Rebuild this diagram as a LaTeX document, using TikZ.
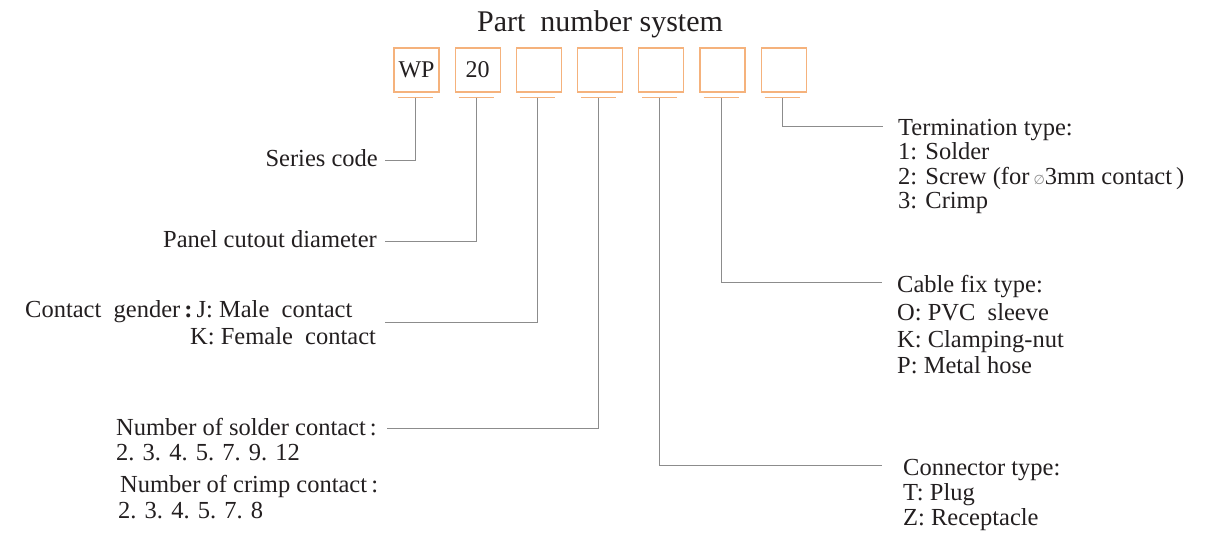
\documentclass[tikz,border=0pt]{standalone}
\usepackage{fontspec}
\setmainfont{Liberation Serif}
\newfontfamily\symfont{DejaVu Sans}
\usetikzlibrary{calc}
\definecolor{boxorange}{HTML}{F5B27C}
\definecolor{leadgray}{HTML}{8C8C8C}
\definecolor{inkc}{HTML}{231F20}
\begin{document}
\begin{tikzpicture}[x=1pt,y=-1pt,
  pbox/.style={draw=boxorange, line width=1.1pt, minimum width=45pt, minimum height=44pt, inner sep=0pt, text=inkc, font=\fontsize{24}{25}\selectfont},
  uline/.style={draw=boxorange, line width=1pt},
  lead/.style={draw=leadgray, line width=0.9pt},
  lbl/.style={inner sep=0pt, text=inkc, font=\fontsize{24.5}{26}\selectfont},
  ttl/.style={inner sep=0pt, text=inkc, font=\fontsize{30}{32}\selectfont}]
\useasboundingbox (0,0) rectangle (1206,534);
\fill[white] (0,0) rectangle (1206,534);
% title
\node[ttl, anchor=base] (title) at (600,32) {Part\ \ number system};
% boxes
\node[pbox] (b1) at (416.5,70) {WP};
\node[pbox] (b2) at (477.7,70) {20};
\node[pbox] (b3) at (538.9,70) {};
\node[pbox] (b4) at (600.1,70) {};
\node[pbox] (b5) at (661.3,70) {};
\node[pbox] (b6) at (722.5,70) {};
\node[pbox] (b7) at (783.7,70) {};
\foreach \i in {1,...,7}{
  \coordinate (u\i) at ($(b\i.south)+(-1.5,5)$);
  \draw[uline] ($(u\i)+(-17.5,0)$) -- ($(u\i)+(17.5,0)$);
}
% labels left
\node[lbl, anchor=base east] (series) at (378,167) {Series code};
\coordinate (s1) at (385,160);
\draw[lead] (u1) |- (s1);

\node[lbl, anchor=base east] (panel) at (377,248) {Panel cutout diameter};
\coordinate (s2) at (385,241);
\draw[lead] (u2) |- (s2);

\node[lbl, anchor=base west] (gender) at (25,317) {Contact\ \ gender\,\textbf{:}\,J: Male\ \ contact};
\node[lbl, anchor=base west] (genderk) at (190,344) {K: Female\ \ contact};
\coordinate (s3) at (385,322);
\draw[lead] (u3) |- (s3);

\node[lbl, anchor=base west] (solder) at (116,435) {Number of solder contact\,:};
\node[lbl, anchor=base west] (solderv) at (116,460) {2. 3. 4. 5. 7. 9. 12};
\node[lbl, anchor=base west] (crimp) at (120,492) {Number of crimp contact\,:};
\node[lbl, anchor=base west] (crimpv) at (118,518) {2. 3. 4. 5. 7. 8};
\coordinate (s4) at (387,428);
\draw[lead] (u4) |- (s4);

% labels right
\node[lbl, anchor=base west] (conn) at (903,475) {Connector type:};
\node[lbl, anchor=base west] (connt) at (903,500) {T: Plug};
\node[lbl, anchor=base west] (connz) at (903,525) {Z: Receptacle};
\coordinate (s5) at (882,465);
\draw[lead] (u5) |- (s5);

\node[lbl, anchor=base west] (cable) at (897,293) {Cable fix type:};
\node[lbl, anchor=base west] (cableo) at (897,320) {O: PVC\ \ sleeve};
\node[lbl, anchor=base west] (cablek) at (897,347) {K: Clamping-nut};
\node[lbl, anchor=base west] (cablep) at (897,373) {P: Metal hose};
\coordinate (s6) at (882,282);
\draw[lead] (u6) |- (s6);

\node[lbl, anchor=base west] (term) at (898,136) {Termination type:};
\node[lbl, anchor=base west] (term1) at (898,160) {1: Solder};
\node[lbl, anchor=base west] (term2) at (898,185) {2: Screw (for\,{\symfont\fontsize{13}{13}\selectfont\color{leadgray}∅}3mm contact\,)};
\node[lbl, anchor=base west] (term3) at (898,209) {3: Crimp};
\coordinate (s7) at (883,126);
\draw[lead] (u7) |- (s7);
\end{tikzpicture}
\end{document}
